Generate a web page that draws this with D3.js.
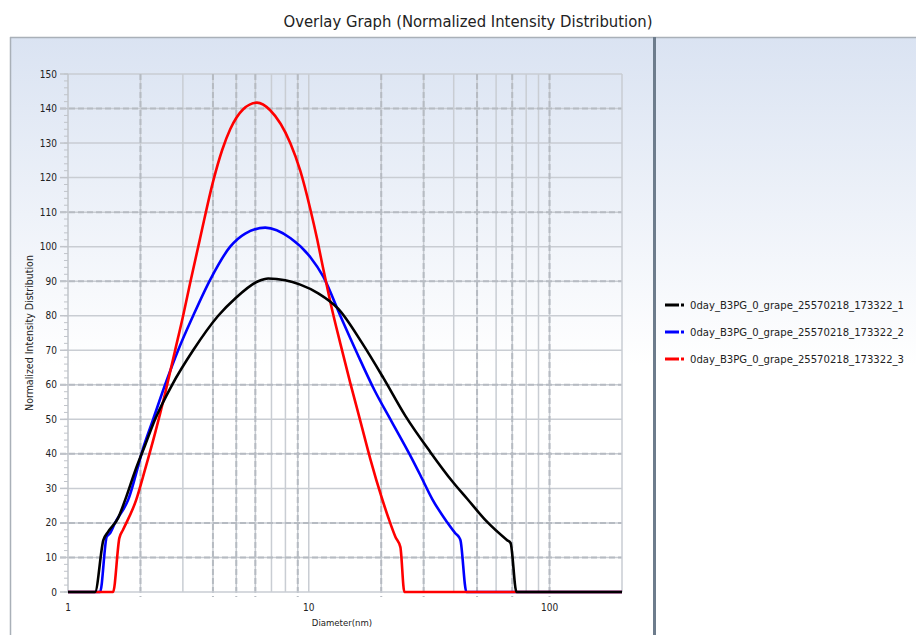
<!DOCTYPE html>
<html><head><meta charset="utf-8">
<script src="https://cdn.jsdelivr.net/npm/d3@7/dist/d3.min.js"></script>
<style>body{margin:0;background:#fff}svg{display:block}text{font-family:"DejaVu Sans Condensed","DejaVu Sans",sans-serif}</style>
</head><body><svg id="c" width="916" height="635"></svg>
<script>
const title = "Overlay Graph (Normalized Intensity Distribution)";
const xLabel = "Diameter(nm)";
const yLabel = "Normalized Intensity Distribution";
const seriesNames = ["0day_B3PG_0_grape_25570218_173322_1","0day_B3PG_0_grape_25570218_173322_2","0day_B3PG_0_grape_25570218_173322_3"];
const seriesColors = ["#000000","#0000ff","#ff0000"];
const yTicks = [0,10,20,30,40,50,60,70,80,90,100,110,120,130,140,150];
const xTickLabels = [1,10,100];
const xGridSolid = [2,3,4,5,6,7,8,9,10,20,30,40,50,60,70,80,90,100];
const xGridDashed = [2,4,5,6,9,20,30,50,70,100];
const yGridDashed = [10,20,40,60,90,110,140];
// [diameter nm, intensity]
const series1 = [[1,0],[1.295,0],[1.402,15],[1.467,17.4],[1.614,21.4],[1.726,26.6],[1.899,35],[2.09,42.5],[2.3,50],[2.707,60],[3.31,70],[4.206,80],[4.948,85],[6.166,90],[6.785,90.8],[7.986,90.3],[9.219,89],[10.95,86.5],[13.27,82],[16.69,72],[20.41,62],[25.19,51],[32.0,40.5],[39.51,32],[45.49,27],[54.7,20.5],[66.7,15],[68.9,14.2],[72.9,0],[200,0]];
const series2 = [[1,0],[1.359,0],[1.448,16],[1.495,17],[1.568,20],[1.776,26.6],[2.07,42.5],[2.257,50],[2.531,60],[2.867,70],[3.31,80],[3.894,90.4],[4.717,100],[5.445,103.8],[6.595,105.5],[8.378,102.5],[10.14,97],[11.49,91.3],[13.52,80],[15.91,69],[18.73,58.5],[22.03,49.5],[26.18,40],[29.08,33.8],[32.53,27],[37.3,20.5],[40.65,17],[41.97,16],[42.66,15],[45.17,0],[200,0]];
const series3 = [[1,0],[1.539,0],[1.634,15.6],[1.693,18],[1.918,26.6],[2.09,35.5],[2.3,46],[2.531,57.5],[2.786,70],[3.007,80],[3.216,89.5],[3.539,102.5],[4.009,119],[4.369,128],[4.717,134],[5.342,139.8],[6.09,141.7],[6.916,139.5],[8.378,130],[9.219,122],[10.14,111],[10.85,102],[11.49,93.5],[12.29,84],[13.52,72],[14.88,60.5],[16.38,49.5],[18.02,38.5],[20.16,27],[21.41,21.5],[22.89,16],[24.02,13],[24.95,0],[200,0]];
const allSeries = [series1, series2, series3];

const svg = d3.select("#c");
const defs = svg.append("defs");
const grad = defs.append("linearGradient").attr("id","bg").attr("x1",0).attr("y1",0).attr("x2",0).attr("y2",1);
grad.append("stop").attr("offset","0%").attr("stop-color","#dae3f2");
grad.append("stop").attr("offset","55%").attr("stop-color","#ffffff");
grad.append("stop").attr("offset","100%").attr("stop-color","#ffffff");

svg.append("rect").attr("x",10).attr("y",37).attr("width",906).attr("height",598).attr("fill","url(#bg)");
svg.append("line").attr("x1",10).attr("x2",916).attr("y1",37.5).attr("y2",37.5).attr("stroke","#a9b0b8").attr("stroke-width",1.5);
svg.append("line").attr("x1",10.5).attr("x2",10.5).attr("y1",37).attr("y2",635).attr("stroke","#a9b0b8").attr("stroke-width",1.5);
svg.append("line").attr("x1",654.5).attr("x2",654.5).attr("y1",37).attr("y2",635).attr("stroke","#6d7c8c").attr("stroke-width",3);

svg.append("text").attr("x",468).attr("y",27).attr("text-anchor","middle").attr("font-size",16.5).attr("fill","#222").text(title);

const L=68, R=622, T=74, B=592;
const x = d3.scaleLog().domain([1,200]).range([L,R]);
const y = d3.scaleLinear().domain([0,150]).range([B,T]);

const g = svg.append("g");
g.selectAll(".gx").data(xGridSolid).join("line").attr("x1",d=>x(d)).attr("x2",d=>x(d)).attr("y1",T).attr("y2",B).attr("stroke","#c9cdd3").attr("stroke-width",1.5);
g.selectAll(".gy").data(yTicks.filter(d=>d>0)).join("line").attr("x1",L).attr("x2",R).attr("y1",d=>y(d)).attr("y2",d=>y(d)).attr("stroke","#c9cdd3").attr("stroke-width",1.5);
g.selectAll(".dx").data(xGridDashed).join("line").attr("x1",d=>x(d)).attr("x2",d=>x(d)).attr("y1",T).attr("y2",B+5).attr("stroke","#b6bbc2").attr("stroke-width",2).attr("stroke-dasharray","6,3");
g.selectAll(".dy").data(yGridDashed).join("line").attr("x1",L-8).attr("x2",R).attr("y1",d=>y(d)).attr("y2",d=>y(d)).attr("stroke","#b6bbc2").attr("stroke-width",2).attr("stroke-dasharray","6,3");
g.append("line").attr("x1",R).attr("x2",R).attr("y1",T).attr("y2",B).attr("stroke","#c9cdd3").attr("stroke-width",1.5);
g.append("line").attr("x1",L).attr("x2",L).attr("y1",T).attr("y2",B).attr("stroke","#c0c4ca").attr("stroke-width",1.5);
g.append("line").attr("x1",L).attr("x2",R).attr("y1",B).attr("y2",B).attr("stroke","#c9cdd3").attr("stroke-width",1.5);

const minor = d3.range(0,151,2);
g.selectAll(".mt").data(minor).join("line").attr("x1",L-4).attr("x2",L).attr("y1",d=>y(d)).attr("y2",d=>y(d)).attr("stroke","#c0c4ca").attr("stroke-width",1);
g.selectAll(".Mt").data(yTicks).join("line").attr("x1",L-8).attr("x2",L).attr("y1",d=>y(d)).attr("y2",d=>y(d)).attr("stroke","#c0c4ca").attr("stroke-width",1.5);
g.selectAll(".yl").data(yTicks).join("text").attr("x",57).attr("y",d=>y(d)+3.5).attr("text-anchor","end").attr("font-size",10).attr("fill","#222").text(d=>d);
g.selectAll(".xl").data(xTickLabels).join("text").attr("x",d=>x(d)).attr("y",611).attr("text-anchor","middle").attr("font-size",10).attr("fill","#222").text(d=>d);

svg.append("text").attr("x",342).attr("y",626).attr("text-anchor","middle").attr("font-size",9.5).attr("fill","#222").text(xLabel);
svg.append("text").attr("transform","translate(33,333) rotate(-90)").attr("text-anchor","middle").attr("font-size",10.5).attr("fill","#222").text(yLabel);

const line = d3.line().x(d=>x(d[0])).y(d=>y(d[1])).curve(d3.curveMonotoneX);
[1,2,0].forEach(i=>{
  g.append("path").attr("d",line(allSeries[i])).attr("fill","none").attr("stroke",seriesColors[i]).attr("stroke-width",2.6).attr("stroke-linejoin","round");
});

const lg = svg.append("g");
seriesNames.forEach((n,i)=>{
  const yy = 305 + i*27;
  lg.append("line").attr("x1",665).attr("x2",679).attr("y1",yy).attr("y2",yy).attr("stroke",seriesColors[i]).attr("stroke-width",3);
  lg.append("line").attr("x1",681).attr("x2",684).attr("y1",yy).attr("y2",yy).attr("stroke",seriesColors[i]).attr("stroke-width",3);
  lg.append("text").attr("x",690).attr("y",yy+4).attr("font-size",11.2).attr("fill","#222").text(n);
});
</script></body></html>
